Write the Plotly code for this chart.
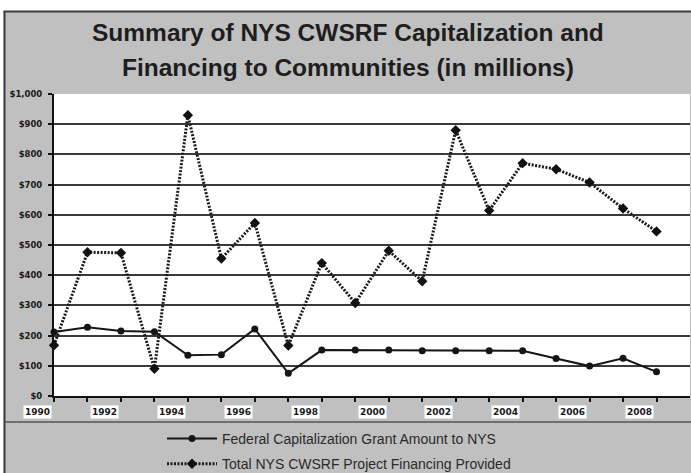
import plotly.graph_objects as go

# Fiscal years covered by the program summary
years = list(range(1990, 2009))

# Federal capitalization grant amount to NYS ($ millions)
federal_grant = [212, 228, 215, 213, 135, 137, 222, 75, 152, 152, 152,
                 150, 150, 150, 150, 124, 99, 125, 80]

# Total NYS CWSRF project financing provided ($ millions)
total_financing = [168, 476, 474, 90, 930, 455, 573, 167, 440, 308, 481,
                   380, 880, 614, 771, 751, 707, 621, 545]

# Year labels printed under the category axis
year_labels = ["1990", "1992", "1994", "1996", "1998",
               "2000", "2002", "2004", "2006", "2008"]

# Dollar axis
y_ticks = list(range(0, 1001, 100))
y_tick_labels = ["$0", "$100", "$200", "$300", "$400", "$500",
                 "$600", "$700", "$800", "$900", "$1,000"]

title_lines = ["Summary of NYS CWSRF Capitalization and",
               "Financing to Communities (in millions)"]

W, H = 691, 473
L, R, T, B = 54, 1, 94, 77
PW, PH = W - L - R, H - T - B
X_MAX = 19  # axis spans 19 category slots


def px(x):
    """Pixel x -> paper x."""
    return (x - L) / PW


def py(y):
    """Pixel y -> paper y."""
    return (H - B - y) / PH


BG = "#c0c0c0"
FRAME = "#3c3c3c"
idx = list(range(len(years)))

fig = go.Figure()

fig.add_trace(go.Scatter(
    x=idx, y=federal_grant, mode="lines+markers",
    name="Federal Capitalization Grant Amount to NYS",
    line=dict(color="#151515", width=2),
    marker=dict(symbol="circle", size=7, color="#151515"),
    cliponaxis=False, legendgroup="a",
))
fig.add_trace(go.Scatter(
    x=idx, y=total_financing, mode="lines+markers",
    name="Total NYS CWSRF Project Financing Provided",
    line=dict(color="#1a1a1a", width=3, dash="2px,1.5px"),
    marker=dict(symbol="diamond", size=8, color="#111111"),
    cliponaxis=False, legendgroup="b",
))

annotations = []
for i, line in enumerate(title_lines):
    annotations.append(dict(
        text=line, xref="paper", yref="paper",
        x=px(348), y=py(33 + 34 * i), xanchor="center", yanchor="middle",
        showarrow=False,
        font=dict(family="Liberation Sans, Arial, sans-serif", size=24.5,
                  color="#1e1e1e", weight="bold"),
    ))

# Year labels sit half a category to the left of their year
for lab in year_labels:
    pos = years.index(int(lab)) - 0.5
    annotations.append(dict(
        text=lab, xref="paper", yref="paper", x=pos / X_MAX, y=py(412),
        xanchor="center", yanchor="middle", showarrow=False,
        bgcolor="white", borderpad=1,
        font=dict(family="DejaVu Sans, sans-serif", size=9,
                  color="#1a1a1a", weight="bold"),
    ))

shapes = [
    # white margin above and left of the chart frame
    dict(type="rect", xref="paper", yref="paper", x0=px(0), x1=px(W),
         y0=py(11), y1=py(0), fillcolor="white", line_width=0, layer="above"),
    dict(type="rect", xref="paper", yref="paper", x0=px(0), x1=px(3.5),
         y0=py(H), y1=py(0), fillcolor="white", line_width=0, layer="above"),
    # frame lines
    dict(type="line", xref="paper", yref="paper", x0=px(3.5), x1=px(W),
         y0=py(11.5), y1=py(11.5), line=dict(color=FRAME, width=2)),
    dict(type="line", xref="paper", yref="paper", x0=px(4.5), x1=px(4.5),
         y0=py(11.5), y1=py(H), line=dict(color=FRAME, width=2)),
    dict(type="line", xref="paper", yref="paper", x0=px(4.5), x1=px(W),
         y0=py(422), y1=py(422), line=dict(color="#555555", width=1.5)),
]

fig.update_layout(
    width=W, height=H,
    margin=dict(l=L, r=R, t=T, b=B, pad=0, autoexpand=False),
    paper_bgcolor=BG, plot_bgcolor="white",
    font=dict(family="Liberation Sans, Arial, sans-serif", color="#1a1a1a"),
    showlegend=True,
    legend=dict(
        x=px(162), y=py(423), xanchor="left", yanchor="top",
        bgcolor="rgba(0,0,0,0)", tracegroupgap=4,
        font=dict(family="Liberation Sans, Arial, sans-serif", size=14,
                  color="#2a2a2a"),
        itemwidth=50,
    ),
    annotations=annotations,
    shapes=shapes,
)

fig.update_xaxes(
    range=[0, X_MAX], tickvals=idx, showticklabels=False,
    ticks="outside", ticklen=4, tickcolor="#111111", tickwidth=1.5,
    showgrid=False, zeroline=False,
    showline=True, linecolor="#111111", linewidth=2,
    fixedrange=True,
)
fig.update_yaxes(
    range=[0, 1000], tickvals=y_ticks, ticktext=y_tick_labels,
    ticks="outside", ticklen=4, tickcolor="#111111", tickwidth=1.5,
    tickfont=dict(family="DejaVu Sans, sans-serif", size=8.5,
                  color="#1a1a1a", weight="bold"),
    ticklabelstandoff=4,
    showgrid=True, gridcolor="#3a3a3a", gridwidth=1.6,
    zeroline=False,
    showline=True, linecolor="#111111", linewidth=2,
    fixedrange=True,
)

fig.write_html("out.html")
